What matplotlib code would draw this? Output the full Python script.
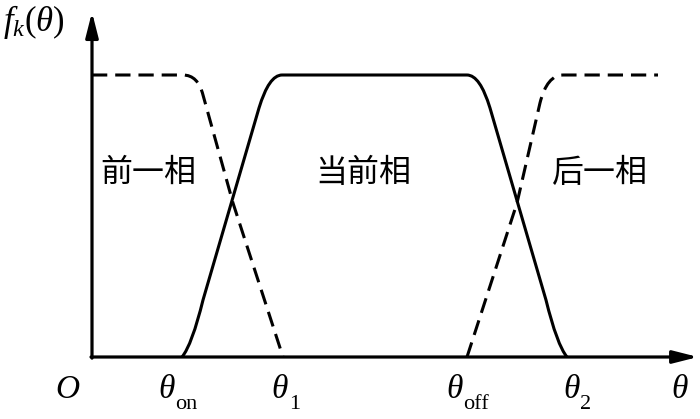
import matplotlib
matplotlib.use("Agg")
import matplotlib.pyplot as plt
from matplotlib.path import Path
from matplotlib.patches import PathPatch

plt.rcParams['mathtext.fontset'] = 'custom'
plt.rcParams['mathtext.rm'] = 'Liberation Serif'
plt.rcParams['mathtext.it'] = 'Liberation Serif:italic'
plt.rcParams['font.family'] = ['Liberation Serif', 'Noto Sans CJK SC']

M, L, Q = Path.MOVETO, Path.LINETO, Path.CURVE3

# ---- data (theta in arbitrary units, f normalised to 1) ----
prev_x = [0, 91, 106, 111, 141, 191]
prev_y = [1.0, 1.0, 1.0, 0.929, 0.546, 0.0]
prev_codes = [M, L, Q, Q, L, L]

cur_x = [90, 100, 111, 167, 177, 190, 375, 388, 398, 454, 465, 475]
cur_y = [0.0, 0.043, 0.202, 0.883, 1.0, 1.0, 1.0, 1.0, 0.883, 0.202, 0.043, 0.0]
cur_codes = [M, Q, Q, L, Q, Q, L, Q, Q, L, Q, Q]

next_x = [375, 425, 448, 455, 471, 566]
next_y = [0.0, 0.546, 0.901, 1.0, 1.0, 1.0]
next_codes = [M, L, L, Q, Q, L]

phase_labels = ['前一相', '当前相', '后一相']
phase_x = [56, 271, 508]
phase_y = 0.6525

main_labels = [r'$O$', r'$\theta$', r'$\theta$', r'$\theta$', r'$\theta$', r'$\theta$']
main_x = [-24.5, 74.5, 188, 363, 479.5, 588]
main_y = -0.1454
sub_labels = ['on', '1', 'off', '2']
sub_x = [83, 197, 371, 488]
sub_y = -0.1844

x_end = 606
y_end = 1.223

fig = plt.figure(figsize=(7.0, 4.19), dpi=100)
ax = fig.add_axes([0, 0, 1, 1])
ax.set_xlim(-92, 608)
ax.set_ylim((357 - 419) / 282, 357 / 282)
ax.axis('off')

lw = 2.2
ax.add_patch(PathPatch(Path(list(zip(prev_x, prev_y)), prev_codes), fill=False,
                       lw=lw, ls=(0, (5.0, 2.6)), ec='black', capstyle='butt'))
ax.add_patch(PathPatch(Path(list(zip(cur_x, cur_y)), cur_codes), fill=False,
                       lw=lw, ec='black', joinstyle='round'))
ax.add_patch(PathPatch(Path(list(zip(next_x, next_y)), next_codes), fill=False,
                       lw=lw, ls=(0, (5.0, 2.6)), ec='black', capstyle='butt'))

arrow = dict(arrowstyle='-|>,head_length=15,head_width=3.8', lw=2.3, color='black',
             shrinkA=0, shrinkB=0, mutation_scale=1)
ax.annotate('', xy=(x_end, 0), xytext=(-1, 0), arrowprops=arrow)
ax.annotate('', xy=(0, y_end), xytext=(0, -0.004), arrowprops=arrow)

for s, x in zip(phase_labels, phase_x):
    ax.text(x, phase_y, s, ha='center', va='center', fontsize=23,
            family=['Noto Sans CJK SC'])

for s, x in zip(main_labels, main_x):
    ax.text(x, main_y, s, ha='center', va='baseline', fontsize=24)
for s, x in zip(sub_labels, sub_x):
    ax.text(x, sub_y, s, ha='left', va='baseline', fontsize=16,
            family=['Liberation Serif'])

ax.text(-89, (357 - 31) / 282, r'$f_k(\theta)$', ha='left', va='baseline', fontsize=25)

fig.savefig('out.png', dpi=100)
